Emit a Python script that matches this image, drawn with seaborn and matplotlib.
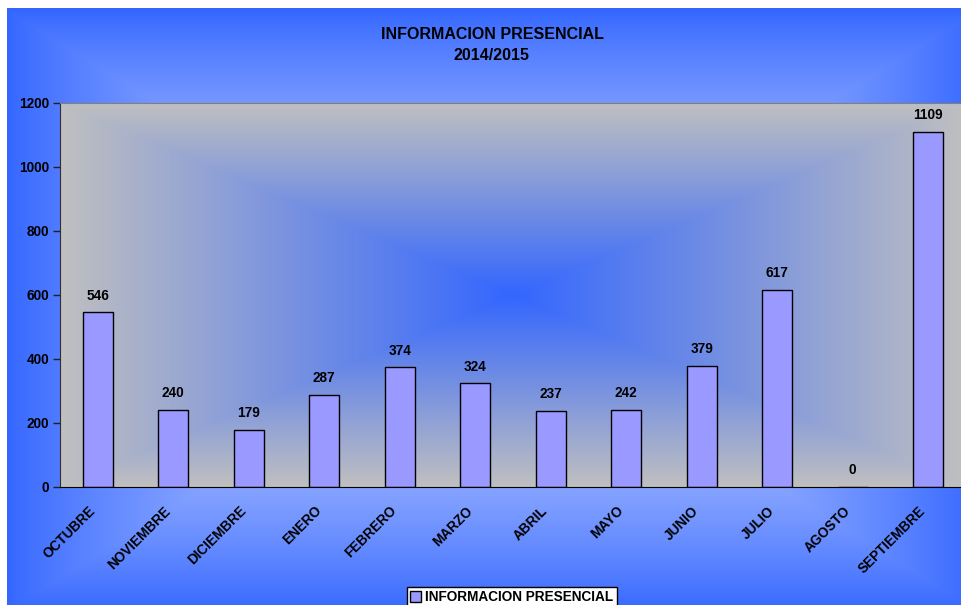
import numpy as np
import pandas as pd
import seaborn as sns
import matplotlib.pyplot as plt
from matplotlib.transforms import ScaledTranslation

# data
months = ['OCTUBRE', 'NOVIEMBRE', 'DICIEMBRE', 'ENERO', 'FEBRERO', 'MARZO',
          'ABRIL', 'MAYO', 'JUNIO', 'JULIO', 'AGOSTO', 'SEPTIEMBRE']
visits = [546, 240, 179, 287, 374, 324, 237, 242, 379, 617, 0, 1109]
series_name = 'INFORMACION PRESENCIAL'
title = 'INFORMACION PRESENCIAL\n2014/2015'
yticks = [0, 200, 400, 600, 800, 1000, 1200]

df = pd.DataFrame({'mes': months, 'valor': visits})

sns.set_style('white')
plt.rcParams['font.family'] = ['Liberation Sans', 'DejaVu Sans']
plt.rcParams['font.weight'] = 'bold'
plt.rcParams['text.color'] = 'black'
plt.rcParams['xtick.labelcolor'] = 'black'
plt.rcParams['ytick.labelcolor'] = 'black'

W, H = 962, 605
fig = plt.figure(figsize=(W / 100, H / 100), dpi=100)
fig.patch.set_facecolor('white')

# background of the whole chart area: light centre, blue edges
blue = np.array([0x33, 0x66, 0xFF]) / 255
light = np.array([0.86, 0.89, 1.0])
yy, xx = np.mgrid[0:H, 0:W]
t = np.maximum(np.abs(xx - 492) / 485, np.abs(yy - 310) / 300).clip(0, 1)
f = (1 - t) ** 0.8
bg = blue * (1 - f[..., None]) + light * f[..., None]
bg[:8, :] = 1
bg[:, :7] = 1
bax = fig.add_axes([0, 0, 1, 1], zorder=-10)
bax.imshow(bg, aspect='auto', interpolation='bilinear')
bax.axis('off')

# plot area
left, right, top, bottom = 60, 966, 103, 487
ax = fig.add_axes([left / W, 1 - bottom / H, (right - left) / W, (bottom - top) / H])
ax.set_facecolor('none')

gray = np.array([0xC0, 0xC0, 0xC0]) / 255
gy, gx = np.mgrid[0:200, 0:400]
gt = np.maximum(np.abs(gx - 199.5) / 200, np.abs(gy - 99.5) / 100).clip(0, 1)
pa = blue * (1 - gt[..., None]) + gray * gt[..., None]
ax.imshow(pa, extent=(-0.5, 11.5, 0, 1200), aspect='auto', origin='lower',
          zorder=0, interpolation='bilinear')

sns.barplot(data=df, x='mes', y='valor', color='#9999FF', width=0.4,
            edgecolor='black', linewidth=1, saturation=1, ax=ax, zorder=2)

bars = ax.containers[0]
ax.bar_label(bars, labels=[str(v) for v in visits], padding=7,
             fontsize=9.8, fontweight='bold', color='black')

ax.set_xlim(-0.5, 11.5)
ax.set_ylim(0, 1200)
ax.set_yticks(yticks)
ax.set_xlabel('')
ax.set_ylabel('')

ax.set_xticks(range(len(months)))
ax.set_xticks(np.arange(-0.5, 12, 1), minor=True)
ax.tick_params(axis='x', which='major', length=0, pad=12)
ax.tick_params(axis='x', which='minor', length=5, width=1, color='#202020', direction='out')
ax.tick_params(axis='y', length=5, width=1, color='#202020', direction='out',
               labelsize=9.8, pad=3, left=True)
ax.set_xticklabels(months, rotation=45, ha='right', va='top',
                   rotation_mode='anchor', fontsize=9.8, fontweight='bold')
for lab in ax.get_yticklabels():
    lab.set_fontweight('bold')

# nudge the rotated month names left, as in the original
shift = ScaledTranslation(-10 / 100, 0, fig.dpi_scale_trans)
for lab in ax.get_xticklabels():
    lab.set_transform(lab.get_transform() + shift)

ax.spines['left'].set_color('#303030')
ax.spines['bottom'].set_color('black')
ax.spines['top'].set_color('#808080')
ax.spines['right'].set_visible(False)

fig.text(492 / W, 1 - 45 / H, title, ha='center', va='center',
         fontsize=11.5, fontweight='bold', linespacing=1.45)

leg = fig.legend([bars], [series_name], loc='upper center',
                 bbox_to_anchor=(512 / W, 1 - 587 / H), frameon=True,
                 fancybox=False, edgecolor='black', framealpha=1,
                 borderpad=0.25, handlelength=0.8, handleheight=0.8,
                 handletextpad=0.3, borderaxespad=0,
                 prop={'size': 9.8, 'weight': 'bold'})
leg.get_frame().set_linewidth(1)

fig.savefig('out.png', dpi=100)
